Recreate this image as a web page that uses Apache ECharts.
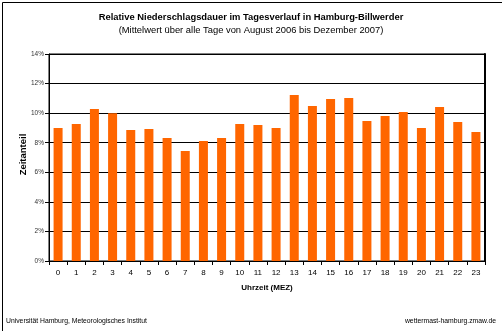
<!DOCTYPE html>
<html>
<head>
<meta charset="utf-8">
<script src="https://cdn.jsdelivr.net/npm/echarts@6/dist/echarts.min.js"></script>
<style>html,body{margin:0;padding:0;background:#fff}#c{width:502px;height:331px}</style>
</head>
<body>
<div id="c"></div>
<script>
const hours = ['0','1','2','3','4','5','6','7','8','9','10','11','12','13','14','15','16','17','18','19','20','21','22','23'];
const shares = [9.0,9.27,10.28,10.0,8.86,8.93,8.32,7.44,8.12,8.32,9.27,9.2,9.0,11.23,10.48,10.96,11.02,9.47,9.8,10.08,9.0,10.41,9.4,8.72];
const titleText = 'Relative Niederschlagsdauer im Tagesverlauf in Hamburg-Billwerder';
const subtitleText = '(Mittelwert über alle Tage von August 2006 bis Dezember 2007)';
const yName = 'Zeitanteil';
const xName = 'Uhrzeit (MEZ)';
const footLeft = 'Universität Hamburg, Meteorologisches Institut';
const footRight = 'wettermast-hamburg.zmaw.de';

const chart = echarts.init(document.getElementById('c'), null, {renderer:'canvas'});
const F = 'Liberation Sans, Arial, sans-serif';
chart.setOption({
  animation:false,
  backgroundColor:'#fff',
  title:{
    text:titleText, subtext:subtitleText, left:'center', top:7, itemGap:2,
    textStyle:{fontFamily:F,fontSize:9.4,fontWeight:'bold',color:'#000',lineHeight:11},
    subtextStyle:{fontFamily:F,fontSize:9.4,color:'#000',lineHeight:11}
  },
  grid:{left:49,right:17,top:54,bottom:70,show:true,borderColor:'#000',borderWidth:1,backgroundColor:'#fff'},
  xAxis:{
    type:'category', data:hours,
    name:xName, nameLocation:'middle', nameGap:23, nameMoveOverlap:false,
    nameTextStyle:{fontFamily:F,fontSize:8,fontWeight:'bold',color:'#000'},
    axisLine:{lineStyle:{color:'#000',width:1}},
    axisTick:{show:true,length:4,alignWithLabel:false,lineStyle:{color:'#000'}},
    axisLabel:{fontFamily:F,fontSize:8,color:'#000',margin:8}
  },
  yAxis:[{
    type:'value', min:0, max:14, interval:2,
    name:yName, nameLocation:'middle', nameGap:21, nameRotate:90, nameMoveOverlap:false,
    nameTextStyle:{fontFamily:F,fontSize:9.5,fontWeight:'bold',color:'#000',padding:[0,0,0,6]},
    axisLine:{show:true,lineStyle:{color:'#000',width:1}},
    axisTick:{show:true,length:4,lineStyle:{color:'#000'}},
    axisLabel:{fontFamily:F,fontSize:6.5,color:'#333',margin:5,formatter:'{value}%'},
    splitLine:{show:true,lineStyle:{color:'#000',width:1}}
  },{
    type:'value', min:0, max:14, interval:2, position:'right',
    axisLine:{show:true,lineStyle:{color:'#000',width:2}},
    axisTick:{show:false}, axisLabel:{show:false}, splitLine:{show:false}
  }],
  series:[{
    type:'bar', data:shares, barWidth:9,
    itemStyle:{color:'#FF6600'}
  }],
  graphic:[
    {type:'rect',left:0,top:0,shape:{width:501,height:330},style:{fill:'none',stroke:'#000',lineWidth:1},silent:true,z:100},
    {type:'text',left:6,top:318,style:{text:footLeft,font:'6.8px '+F,fill:'#000'}},
    {type:'text',right:6,top:318,style:{text:footRight,font:'6.8px '+F,fill:'#000'}}
  ]
});
</script>
</body>
</html>
